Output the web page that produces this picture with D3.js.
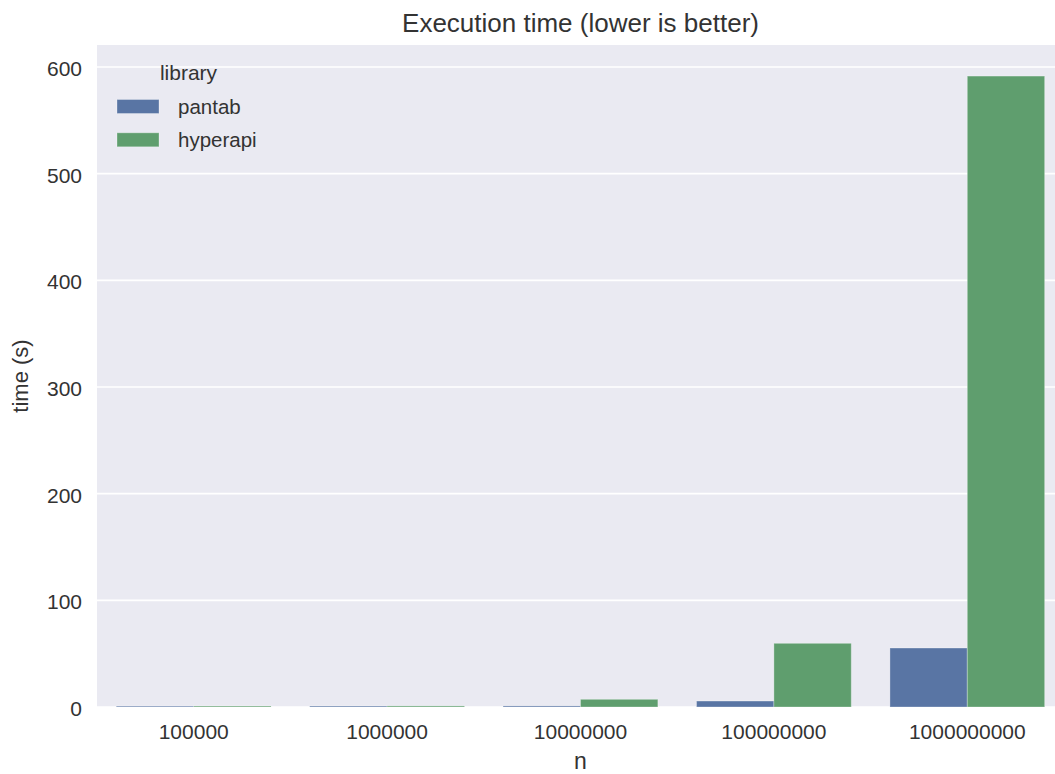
<!DOCTYPE html>
<html><head><meta charset="utf-8">
<script src="https://cdn.jsdelivr.net/npm/d3@7"></script>
<style>body{margin:0;background:#fff;} svg{display:block;font-family:"Liberation Sans",Arial,sans-serif;}</style>
</head><body>
<svg id="c" width="1055" height="774"></svg>
<script>
const categories = ["100000","1000000","10000000","100000000","1000000000"];
const seriesNames = ["pantab","hyperapi"];
const pantab = [0.8, 0.9, 1.0, 5.6, 55.3];
const hyperapi = [0.9, 1.0, 7.2, 59.7, 591.5];
const yTicks = [0,100,200,300,400,500,600];
const colors = ["#5975a4","#5f9e6e"];

const svg = d3.select("#c");
const m = {l:97, r:1064, t:45, b:707};
const x = d3.scaleBand().domain(categories).range([m.l, m.r]).paddingInner(0).paddingOuter(0);
const xs = d3.scaleBand().domain(seriesNames).range([0, x.bandwidth()]).paddingInner(0).paddingOuter(0.25);
const y = d3.scaleLinear().domain([0, 600]).range([m.b, 67]);

svg.append("rect").attr("x",m.l).attr("y",m.t).attr("width",m.r-m.l).attr("height",m.b-m.t).attr("fill","#eaeaf2");
// grid
svg.append("g").selectAll("line").data(yTicks).join("line")
  .attr("x1",m.l).attr("x2",m.r).attr("y1",d=>y(d)).attr("y2",d=>y(d))
  .attr("stroke","#fff").attr("stroke-width",1.6);

const data = [];
categories.forEach((c,i)=>{ data.push({c,s:"pantab",v:pantab[i]}); data.push({c,s:"hyperapi",v:hyperapi[i]}); });
svg.append("g").selectAll("rect").data(data).join("rect")
  .attr("x",d=>x(d.c)+xs(d.s)).attr("width",xs.bandwidth())
  .attr("y",d=>y(d.v)).attr("height",d=>y(0)-y(d.v))
  .attr("fill",d=>colors[seriesNames.indexOf(d.s)])
  .attr("stroke","rgba(255,255,255,0.3)").attr("stroke-width",1);

const txtCol = "#333";
// y axis
const yAx = svg.append("g").attr("transform",`translate(${m.l},0)`)
  .call(d3.axisLeft(y).tickValues(yTicks).tickSize(0).tickPadding(15));
yAx.select(".domain").remove();
yAx.selectAll("text").attr("font-size",21).attr("fill",txtCol).attr("dy","0.4em").attr("font-family","Liberation Sans, Arial, sans-serif");
// x axis
const xAx = svg.append("g").attr("transform",`translate(0,${m.b})`)
  .call(d3.axisBottom(x).tickSize(0).tickPadding(17));
xAx.select(".domain").remove();
xAx.selectAll("text").attr("font-size",21).attr("fill",txtCol).attr("font-family","Liberation Sans, Arial, sans-serif");

svg.append("text").attr("x",(m.l+m.r)/2).attr("y",32).attr("text-anchor","middle")
  .attr("font-size",26).attr("fill",txtCol).text("Execution time (lower is better)");
svg.append("text").attr("x",(m.l+m.r)/2).attr("y",769).attr("text-anchor","middle")
  .attr("font-size",23).attr("fill",txtCol).text("n");
svg.append("text").attr("transform",`translate(28,${(m.t+m.b)/2}) rotate(-90)`).attr("text-anchor","middle")
  .attr("font-size",22).attr("fill",txtCol).text("time (s)");

// legend
const lg = svg.append("g");
lg.append("text").attr("x",188.5).attr("y",80).attr("text-anchor","middle").attr("font-size",21).attr("fill",txtCol).text("library");
seriesNames.forEach((s,i)=>{
  const yy = 99.5 + i*33.3;
  lg.append("rect").attr("x",117).attr("y",yy).attr("width",42).attr("height",14).attr("fill",colors[i]).attr("stroke","rgba(255,255,255,0.3)");
  lg.append("text").attr("x",178).attr("y",yy+14).attr("font-size",20.5).attr("fill",txtCol).text(s);
});
</script>
</body></html>
